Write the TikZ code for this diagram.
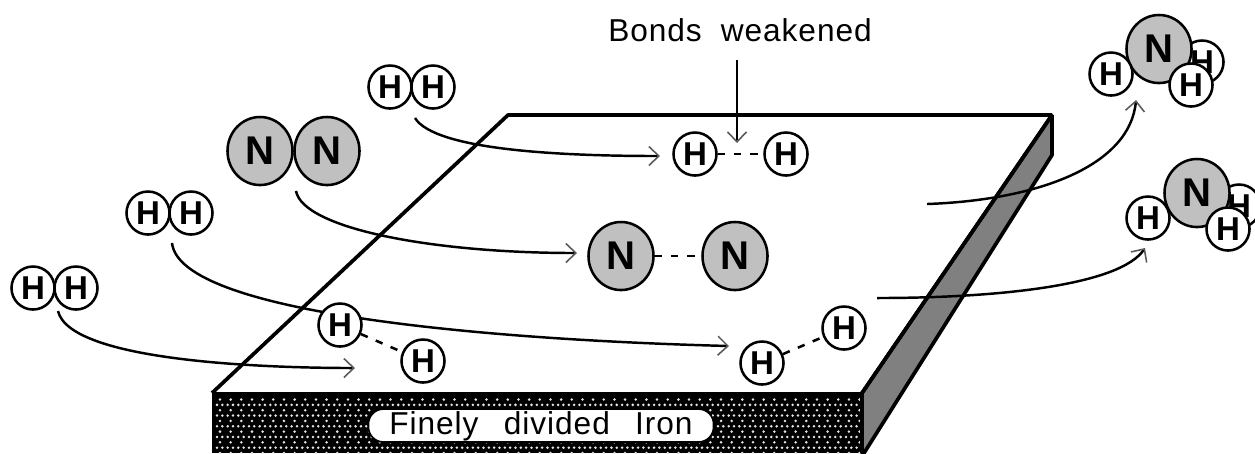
\documentclass[tikz,border=0pt]{standalone}
\usepackage{fontspec}
\usepackage{tikz}
\usetikzlibrary{arrows.meta, shapes.geometric}
\setmainfont{Liberation Sans}
\definecolor{sideGray}{RGB}{128, 128, 128}
\definecolor{atomGray}{RGB}{192, 192, 192}
\definecolor{barbGray}{RGB}{90, 90, 90}
\tikzset{
  hatom/.style={circle, draw, line width=0.72pt, fill=white, minimum size=0.43cm, inner sep=0pt, font=\fontsize{9.4}{10}\selectfont\bfseries},
  natom/.style={ellipse, draw, line width=0.72pt, fill=atomGray, minimum width=0.65cm, minimum height=0.68cm, inner sep=0pt, font=\fontsize{11.4}{12}\selectfont\bfseries},
  flow/.style={line width=0.7pt, -{Straight Barb[length=1mm, width=1.9mm, line width=0.45pt, color=barbGray]}},
  bond/.style={line width=0.72pt, dash pattern=on 2.1pt off 2.5pt},
  plate/.style={line width=1.05pt, line join=miter, miter limit=1},
  caption/.style={inner sep=0pt, anchor=base, font=\fontsize{9}{10}\selectfont\addfontfeature{LetterSpace=3}}
}
\begin{document}
\begin{tikzpicture}[x=0.01cm, y=-0.01cm]
        \useasboundingbox (0,0) rectangle (1255,453);
        \begin{scope}
        \clip (0,0) rectangle (1255,453);
        % the iron block
        \fill[black] (212,393) rectangle (862,453);
        \foreach \r in {0,...,10} {
          \pgfmathsetmacro{\yy}{399.5+5.35*\r}
          \ifodd\r
            \foreach \c in {0,...,121}
              \fill[white!90!black] ({217+5.33*\c},\yy) circle (1.4);
          \else
            \foreach \c in {0,...,60}
              \fill[white!90!black] ({220+10.66*\c},\yy) circle (1.4);
          \fi
        }
        \draw[plate, fill=sideGray] (862,393) -- (1052,115) -- (1052,155) -- (864,453) -- (862,453) -- cycle;
        \draw[plate] (212,393) -- (508,115) -- (1052,115) -- (862,393);
        \draw[line width=0.5pt] (212,393) -- (862,393);
        \node[draw, line width=0.5pt, fill=white, rounded corners=0.15cm, minimum width=3.45cm, minimum height=0.33cm, inner sep=0pt] (ironbox) at (541,425.5) {};
        \node[caption] (iron) at (541,434) {Finely\hspace{0.8em}divided\hspace{0.8em}Iron};
        \node[caption] (bonds) at (740,41) {Bonds\hspace{0.6em}weakened};

        % free ends of the paths
        \coordinate (startA) at (415,118);
        \coordinate (endA) at (660,156);
        \coordinate (startB) at (296,191);
        \coordinate (endB) at (577,253);
        \coordinate (startC) at (172,243);
        \coordinate (endC) at (729,346);
        \coordinate (startD) at (58,311);
        \coordinate (endD) at (355,368);
        \coordinate (startE) at (927,204);
        \coordinate (endE) at (1136,100);
        \coordinate (startF) at (877,298);
        \coordinate (endF) at (1145,248);
        \coordinate (tipBonds) at (737,143);
        \coordinate (tailBonds) at (737,60);

        \draw[flow] (startA) .. controls (435,150) and (560,156) .. (endA);
        \draw[flow] (startB) .. controls (303,228) and (430,253) .. (endB);
        \draw[flow] (startC) .. controls (180,315) and (500,340) .. (endC);
        \draw[flow] (startD) .. controls (70,362) and (270,368) .. (endD);
        \draw[flow] (startE) .. controls (1040,200) and (1130,165) .. (endE);
        \draw[flow] (startF) .. controls (1000,298) and (1120,285) .. (endF);
        \draw[flow, line width=0.8pt] (tailBonds) -- (tipBonds);

        % free molecules
        \node[hatom] (hA) at (390,87) {H};
        \node[hatom] (hB) at (433,87) {H};
        \node[hatom] (hC) at (148,213) {H};
        \node[hatom] (hD) at (191,213) {H};
        \node[hatom] (hE) at (33,288) {H};
        \node[hatom] (hF) at (76,288) {H};
        \node[natom] (nA) at (260,151) {N};
        \node[natom] (nB) at (327,151) {N};

        % on the surface
        \node[hatom] (sA) at (695,154) {H};
        \node[hatom] (sB) at (786,154) {H};
        \node[natom] (sC) at (621,256) {N};
        \node[natom] (sD) at (735,256) {N};
        \node[hatom] (sE) at (340,325) {H};
        \node[hatom] (sF) at (423,361) {H};
        \node[hatom] (sG) at (762,363) {H};
        \node[hatom] (sH) at (844,328) {H};
        \draw[bond] (sA) -- (sB);
        \draw[bond] (sC) -- (sD);
        \draw[bond] (sE) -- (sF);
        \draw[bond] (sG) -- (sH);

        % ammonia
        \node[hatom] (aA) at (1202,62) {H};
        \node[natom] (aB) at (1159,49) {N};
        \node[hatom] (aC) at (1111,74) {H};
        \node[hatom] (aD) at (1191,85) {H};
        \node[hatom] (bA) at (1239,206) {H};
        \node[natom] (bB) at (1197,193) {N};
        \node[hatom] (bC) at (1148,218) {H};
        \node[hatom] (bD) at (1228,229) {H};
        \end{scope}
      \end{tikzpicture}
\end{document}
